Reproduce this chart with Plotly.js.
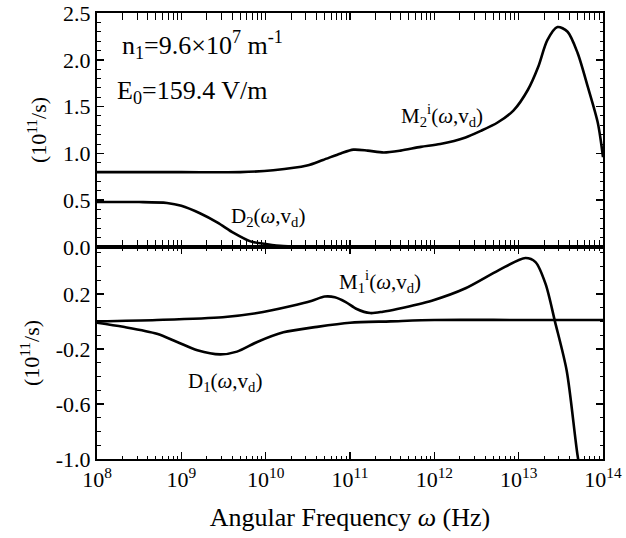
<!DOCTYPE html>
<html><head><meta charset="utf-8">
<script src="https://cdn.plot.ly/plotly-3.0.1.min.js"></script>
<style>html,body{margin:0;padding:0;background:#fff}#chart{width:626px;height:538px}</style>
</head><body><div id="chart"></div>
<script>
// log10 of angular frequency (Hz) and values (10^11/s)
const m2Exp = [8.0, 9.0, 9.7, 10.09, 10.49, 10.68, 10.89, 11.04, 11.21, 11.40, 11.60, 11.84, 12.07, 12.37, 12.55, 12.75, 12.94, 13.11, 13.23, 13.34, 13.46, 13.58, 13.70, 13.82, 13.94, 14.0];
const m2Val = [0.80, 0.80, 0.80, 0.82, 0.87, 0.93, 1.00, 1.04, 1.03, 1.01, 1.03, 1.07, 1.10, 1.17, 1.24, 1.33, 1.46, 1.68, 1.92, 2.21, 2.35, 2.30, 2.07, 1.71, 1.32, 0.96];

const d2Exp = [8.0, 8.5, 8.83, 9.0, 9.22, 9.43, 9.62, 9.82, 10.02, 10.21, 10.5, 11.0, 12.0, 13.0, 14.0];
const d2Val = [0.48, 0.48, 0.47, 0.44, 0.36, 0.26, 0.15, 0.06, 0.03, 0.01, 0.0, 0.0, 0.0, 0.0, 0.0];

const m1Exp = [8.0, 8.71, 9.49, 9.90, 10.29, 10.55, 10.70, 10.82, 10.95, 11.08, 11.24, 11.39, 11.56, 11.97, 12.37, 12.76, 13.08, 13.2, 13.32, 13.43, 13.57, 13.70, 13.78];
const m1Val = [0.0, 0.01, 0.03, 0.06, 0.11, 0.15, 0.18, 0.175, 0.14, 0.09, 0.06, 0.07, 0.09, 0.15, 0.24, 0.37, 0.46, 0.43, 0.27, 0.0, -0.36, -0.98, -1.25];

const d1Exp = [8.0, 8.31, 8.71, 8.95, 9.19, 9.46, 9.66, 9.90, 10.21, 10.61, 11.0, 11.48, 12.0, 13.0, 14.0];
const d1Val = [-0.01, -0.04, -0.09, -0.15, -0.21, -0.24, -0.22, -0.15, -0.08, -0.04, -0.01, 0.0, 0.01, 0.01, 0.01];

const xTickVals = [1e8, 1e9, 1e10, 1e11, 1e12, 1e13, 1e14];
const xTickText = ['10<sup>8</sup>', '10<sup>9</sup>', '10<sup>10</sup>', '10<sup>11</sup>', '10<sup>12</sup>', '10<sup>13</sup>', '10<sup>14</sup>'];
const yTopTickVals = [0, 0.5, 1.0, 1.5, 2.0, 2.5];
const yTopTickText = ['0.0', '0.5', '1.0', '1.5', '2.0', '2.5'];
const yBotTickVals = [0.2, -0.2, -0.6, -1.0];
const yBotTickText = ['0.2', '-0.2', '-0.6', '-1.0'];
const xMinorVals = [];
for (let d = 8; d < 14; d++) for (let k = 2; k <= 9; k++) xMinorVals.push(k * Math.pow(10, d));
const yTopMinorVals = [], yBotMinorVals = [];
for (let i = 0; i <= 25; i++) yTopMinorVals.push(i / 10);
for (let i = -10; i <= 5; i++) yBotMinorVals.push(i / 10);

const toHz = a => a.map(e => Math.pow(10, e));
const F = 'Liberation Serif, Times New Roman, serif';
const ln = {color: '#000', width: 2.6, shape: 'spline', smoothing: 0.8};

const traces = [
  {x: toHz(m2Exp), y: m2Val, xaxis: 'x', yaxis: 'y', mode: 'lines', line: ln, name: 'M2'},
  {x: toHz(d2Exp), y: d2Val, xaxis: 'x', yaxis: 'y', mode: 'lines', line: ln, name: 'D2'},
  {x: toHz(m1Exp), y: m1Val, xaxis: 'x', yaxis: 'y2', mode: 'lines', line: ln, name: 'M1'},
  {x: toHz(d1Exp), y: d1Val, xaxis: 'x', yaxis: 'y2', mode: 'lines', line: ln, name: 'D1'}
];

const split = 212 / 446;
const axCommon = {showgrid: false, zeroline: false, showline: true, linecolor: '#000', linewidth: 2,
  ticks: 'inside', tickcolor: '#000', ticklen: 7, tickwidth: 1.5, tickmode: 'array',
  tickfont: {family: F, size: 22, color: '#000'}};
const minorCommon = {ticks: 'inside', ticklen: 3.5, tickwidth: 1, tickcolor: '#000', tickmode: 'array'};

const layout = {
  width: 626, height: 538,
  margin: {l: 97, r: 23, t: 13, b: 79},
  paper_bgcolor: '#fff', plot_bgcolor: '#fff',
  showlegend: false,
  font: {family: F, color: '#000'},
  xaxis: Object.assign({}, axCommon, {
    type: 'log', range: [8, 14], anchor: 'y2', mirror: 'allticks',
    tickvals: xTickVals, ticktext: xTickText,
    minor: Object.assign({}, minorCommon, {tickvals: xMinorVals}),
    title: {text: 'Angular Frequency <i>ω</i> (Hz)', font: {family: F, size: 26, color: '#000'}, standoff: 16}
  }),
  yaxis: Object.assign({}, axCommon, {
    domain: [split, 1], range: [0, 2.5], anchor: 'x', mirror: 'ticks',
    tickvals: yTopTickVals, ticktext: yTopTickText,
    minor: Object.assign({}, minorCommon, {tickvals: yTopMinorVals}),
    title: {text: '(10<sup>11</sup>/s)', font: {family: F, size: 22, color: '#000'}, standoff: 10}
  }),
  yaxis2: Object.assign({}, axCommon, {
    domain: [0, split], range: [-1.0, 0.54], anchor: 'x', mirror: 'ticks',
    tickvals: yBotTickVals, ticktext: yBotTickText,
    minor: Object.assign({}, minorCommon, {tickvals: yBotMinorVals}),
    title: {text: '(10<sup>11</sup>/s)', font: {family: F, size: 22, color: '#000'}, standoff: 10}
  }),
  annotations: [
    {xref: 'x', yref: 'y', x: 8.27, y: 2.16, xanchor: 'left', yanchor: 'middle', showarrow: false,
     text: 'n<sub>1</sub>=9.6×10<sup>7</sup> m<sup>-1</sup>', font: {family: F, size: 26, color: '#000'}},
    {xref: 'x', yref: 'y', x: 8.21, y: 1.66, xanchor: 'left', yanchor: 'middle', showarrow: false,
     text: 'E<sub>0</sub>=159.4 V/m', font: {family: F, size: 26, color: '#000'}},
    {xref: 'x', yref: 'y', x: 12.09, y: 1.41, showarrow: false,
     text: 'M<sub>2</sub><sup>i</sup>(<i>ω</i>,v<sub>d</sub>)', font: {family: F, size: 21, color: '#000'}},
    {xref: 'x', yref: 'y', x: 10.03, y: 0.32, showarrow: false,
     text: 'D<sub>2</sub>(<i>ω</i>,v<sub>d</sub>)', font: {family: F, size: 21, color: '#000'}},
    {xref: 'x', yref: 'y2', x: 11.35, y: 0.29, showarrow: false,
     text: 'M<sub>1</sub><sup>i</sup>(<i>ω</i>,v<sub>d</sub>)', font: {family: F, size: 21, color: '#000'}},
    {xref: 'x', yref: 'y2', x: 9.52, y: -0.44, showarrow: false,
     text: 'D<sub>1</sub>(<i>ω</i>,v<sub>d</sub>)', font: {family: F, size: 21, color: '#000'}}
  ]
};

Plotly.newPlot('chart', traces, layout, {displayModeBar: false, staticPlot: true});
</script>
</body></html>
